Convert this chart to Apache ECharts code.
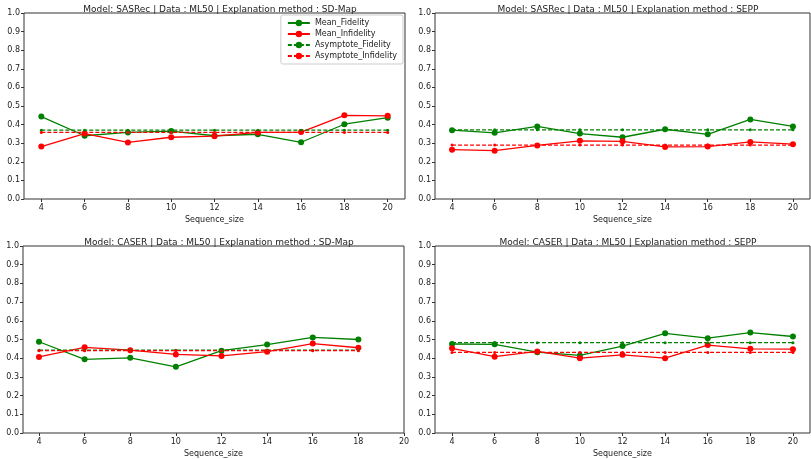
<!DOCTYPE html>
<html><head><meta charset="utf-8">
<script src="https://cdn.jsdelivr.net/npm/echarts@6/dist/echarts.min.js"></script>
<style>html,body{margin:0;padding:0;background:#fff}#c{width:811px;height:459px}</style>
</head><body><div id="c"></div>
<script>
var titles = [
  'Model: SASRec | Data : ML50 | Explanation method : SD-Map',
  'Model: SASRec | Data : ML50 | Explanation method : SEPP',
  'Model: CASER | Data : ML50 | Explanation method : SD-Map',
  'Model: CASER | Data : ML50 | Explanation method : SEPP'
];
var sizes = [
  [4, 6, 8, 10, 12, 14, 16, 18, 20],
  [4, 6, 8, 10, 12, 14, 16, 18, 20],
  [4, 6, 8, 10, 12, 14, 16, 18],
  [4, 6, 8, 10, 12, 14, 16, 18, 20]
];
var tickLabels = [4, 6, 8, 10, 12, 14, 16, 18, 20];
var meanFid = [
  [0.443, 0.340, 0.358, 0.365, 0.340, 0.348, 0.305, 0.402, 0.437],
  [0.370, 0.356, 0.390, 0.352, 0.332, 0.375, 0.348, 0.428, 0.390],
  [0.488, 0.394, 0.402, 0.354, 0.440, 0.473, 0.511, 0.500],
  [0.476, 0.474, 0.432, 0.415, 0.465, 0.533, 0.507, 0.537, 0.516]
];
var meanInf = [
  [0.282, 0.352, 0.304, 0.332, 0.338, 0.358, 0.360, 0.450, 0.447],
  [0.265, 0.260, 0.288, 0.313, 0.310, 0.280, 0.282, 0.307, 0.295],
  [0.407, 0.458, 0.443, 0.420, 0.412, 0.435, 0.478, 0.456],
  [0.453, 0.408, 0.436, 0.400, 0.418, 0.400, 0.470, 0.450, 0.448]
];
var asymFid = [0.370, 0.372, 0.443, 0.483];
var asymInf = [0.358, 0.290, 0.440, 0.431];
var xRange = [[3.2, 20.8], [3.2, 20.8], [3.3, 20], [3.2, 20.8]];

var boxes = [
  {left: 24, top: 13, width: 382, height: 186},
  {left: 435, top: 13, width: 376, height: 186},
  {left: 23, top: 246, width: 382, height: 187},
  {left: 435, top: 246, width: 376, height: 187}
];
var G = '#008000', R = '#ff0000';
var font = 'DejaVu Sans';
var grids = [], xAxes = [], yAxes = [], series = [], tit = [];

boxes.forEach(function (b, i) {
  grids.push({left: b.left, top: b.top, width: b.width - 1, height: b.height, show: true, borderColor: '#333', borderWidth: 1});
  tit.push({text: titles[i], left: b.left + b.width / 2, top: b.top - 13, textAlign: 'center',
    textStyle: {fontSize: 9, fontWeight: 'normal', color: '#222', fontFamily: font}});
  xAxes.push({type: 'value', gridIndex: i, min: xRange[i][0], max: xRange[i][1],
    name: 'Sequence_size', nameLocation: 'middle', nameGap: 17,
    nameTextStyle: {fontSize: 8, color: '#222', fontFamily: font},
    axisLine: {show: false}, splitLine: {show: false},
    axisTick: {show: true, length: 3, lineStyle: {color: '#333'}, customValues: tickLabels},
    axisLabel: {fontSize: 8, color: '#222', fontFamily: font, margin: 5, customValues: tickLabels}});
  yAxes.push({type: 'value', gridIndex: i, min: 0, max: 1, interval: 0.1,
    axisLine: {show: false}, splitLine: {show: false},
    axisTick: {show: true, length: 3, lineStyle: {color: '#333'}},
    axisLabel: {fontSize: 8, color: '#222', fontFamily: font, margin: 4, formatter: function (v) { return v.toFixed(1); }}});
  var x = sizes[i];
  function pts(arr) { return x.map(function (s, k) { return [s, arr[k]]; }); }
  function flat(v) { return x.map(function (s) { return [s, v]; }); }
  series.push({name: 'Mean_Fidelity', type: 'line', xAxisIndex: i, yAxisIndex: i, data: pts(meanFid[i]),
    symbol: 'circle', symbolSize: 6, itemStyle: {color: G}, lineStyle: {color: G, width: 1.3}, animation: false});
  series.push({name: 'Mean_Infidelity', type: 'line', xAxisIndex: i, yAxisIndex: i, data: pts(meanInf[i]),
    symbol: 'circle', symbolSize: 6, itemStyle: {color: R}, lineStyle: {color: R, width: 1.3}, animation: false});
  series.push({name: 'Asymptote_Fidelity', type: 'line', xAxisIndex: i, yAxisIndex: i, data: flat(asymFid[i]),
    symbol: 'circle', symbolSize: 3, itemStyle: {color: G}, lineStyle: {color: G, width: 1.3, type: [4, 2]}, animation: false});
  series.push({name: 'Asymptote_Infidelity', type: 'line', xAxisIndex: i, yAxisIndex: i, data: flat(asymInf[i]),
    symbol: 'circle', symbolSize: 3, itemStyle: {color: R}, lineStyle: {color: R, width: 1.3, type: [4, 2]}, animation: false});
});

var chart = echarts.init(document.getElementById('c'));
chart.setOption({
  animation: false,
  title: tit,
  legend: {orient: 'vertical', right: 408, top: 15, itemWidth: 22, itemHeight: 8, itemGap: 3,
    backgroundColor: '#fff', borderColor: '#ccc', borderWidth: 1, borderRadius: 2, padding: [4, 6],
    textStyle: {fontSize: 8, color: '#222', fontFamily: font},
    data: ['Mean_Fidelity', 'Mean_Infidelity', 'Asymptote_Fidelity', 'Asymptote_Infidelity']},
  grid: grids, xAxis: xAxes, yAxis: yAxes, series: series
});
</script></body></html>
